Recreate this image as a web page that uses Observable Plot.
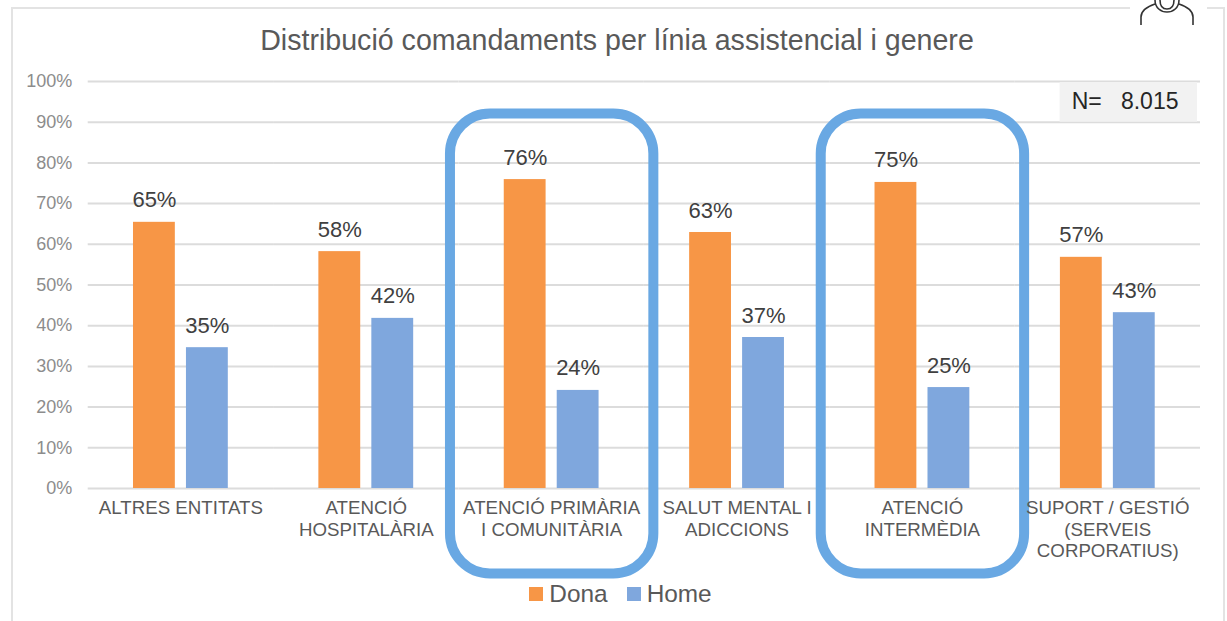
<!DOCTYPE html>
<html lang="ca">
<head>
<meta charset="utf-8">
<script src="https://cdn.jsdelivr.net/npm/d3@7"></script>
<script src="https://cdn.jsdelivr.net/npm/@observablehq/plot@0.6"></script>
<style>
  html, body { margin: 0; padding: 0; background: #fff; width: 1227px; height: 621px; overflow: hidden; font-family: "Liberation Sans", Arial, sans-serif; }
  #page { position: relative; width: 1227px; height: 621px; }
  #frame { position: absolute; left: 11px; top: 7px; width: 1214px; height: 640px; border: 2px solid #e3e3e3; box-sizing: border-box; }
  #gap { position: absolute; left: 1130px; top: 0; width: 77px; height: 12px; background: #fff; }
  #icon { position: absolute; left: 1137px; top: 0; }
  #title { position: relative; height: 62px; line-height: 81px; text-align: center; font-size: 28.6px; color: #595959; padding-left: 7px; box-sizing: border-box; white-space: nowrap; }
  #chart { position: relative; height: 518px; }
  #chart svg { display: block; background: transparent; overflow: visible; }
  #legend { position: relative; height: 41px; display: flex; justify-content: center; align-items: flex-start; padding-left: 14px; box-sizing: border-box; font-size: 24.4px; color: #595959; line-height: 28px; }
  .item { display: flex; align-items: center; margin-right: 19px; }
  .item:last-child { margin-right: 0; }
  .sw { width: 14px; height: 14px; margin-right: 6px; }
</style>
</head>
<body>
<div id="page">
  <div id="frame"></div>
  <div id="gap"></div>
  <svg id="icon" width="60" height="28" fill="none" stroke="#333" stroke-width="1.6">
    <path d="M4 25 V17 C4 10 12 6 18 4 M56 25 V17 C56 10 48 6 42 4"/>
    <path d="M18 0 C18 8 24 12 30 12 C36 12 42 8 42 0"/>
    <path d="M23 0 C23 6 26 9 30 9 C34 9 37 6 37 0"/>
  </svg>
  <div id="title">Distribució comandaments per línia assistencial i genere</div>
  <div id="chart"></div>
  <div id="legend"></div>
</div>
<script>
const categories = ["ALTRES ENTITATS", "ATENCIÓ HOSPITALÀRIA", "ATENCIÓ PRIMÀRIA I COMUNITÀRIA", "SALUT MENTAL I ADICCIONS", "ATENCIÓ INTERMÈDIA", "SUPORT / GESTIÓ (SERVEIS CORPORATIUS)"];
const categoryLabels = ["ALTRES ENTITATS", "ATENCIÓ\nHOSPITALÀRIA", "ATENCIÓ PRIMÀRIA\nI COMUNITÀRIA", "SALUT MENTAL I\nADICCIONS", "ATENCIÓ\nINTERMÈDIA", "SUPORT / GESTIÓ\n(SERVEIS\nCORPORATIUS)"];
const series = ["Dona", "Home"];
const colors = ["#F79646", "#7FA7DD"];
const dona = [65.4, 58.2, 75.9, 62.9, 75.2, 56.8];
const home = [34.6, 41.8, 24.1, 37.1, 24.8, 43.2];
const yTicks = [0, 10, 20, 30, 40, 50, 60, 70, 80, 90, 100];
const highlighted = ["ATENCIÓ PRIMÀRIA I COMUNITÀRIA", "ATENCIÓ INTERMÈDIA"];
const noteText = "N=   8.015";

const rows = categories.flatMap((c, i) => [
  {category: c, series: "Dona", value: dona[i]},
  {category: c, series: "Home", value: home[i]}
]);
const lastCategory = categories[categories.length - 1];

const chart = Plot.plot({
  width: 1227,
  height: 518,
  marginLeft: 87.7,
  marginRight: 27,
  marginTop: 19,
  marginBottom: 92,
  style: {fontFamily: '"Liberation Sans", Arial, sans-serif', background: "transparent"},
  fx: {domain: categories, padding: 0, round: false, label: null},
  x: {domain: series, paddingInner: 0.21, paddingOuter: 0.855, round: false, axis: null},
  y: {domain: [0, 100], label: null},
  color: {domain: series, range: colors},
  marks: [
    Plot.gridY(yTicks, {stroke: "#dcdcdc", strokeOpacity: 1, strokeWidth: 2}),
    Plot.rect([lastCategory], {fx: d => d, y1: 90, y2: 100, fill: "#f2f2f2", insetLeft: 45, insetRight: 3, insetTop: 1}),
    Plot.text([lastCategory], {fx: d => d, y: 95, text: () => noteText, frameAnchor: "right", dx: -22, fontSize: 23, fill: "#262626", textAnchor: "end"}),
    Plot.barY(rows, {fx: "category", x: "series", y: "value", fill: "series"}),
    Plot.text(rows, {fx: "category", x: "series", y: "value", text: d => d3.format(".0f")(d.value) + "%", dy: -22, fontSize: 22, fill: "#404040"}),
    Plot.rect(highlighted, {fx: d => d, y1: -21, y2: 92, fill: "none", stroke: "#69A8E3", strokeWidth: 10, rx: 40, insetLeft: -8.5, insetRight: -9.5}),
    Plot.axisY({ticks: yTicks, anchor: "left", tickSize: 0, tickPadding: 16, tickFormat: d => d + "%", fontSize: 18, color: "#8c8c8c", label: null}),
    Plot.axisFx({anchor: "bottom", tickSize: 0, tickPadding: 10.5, tickFormat: d => categoryLabels[categories.indexOf(d)], fontSize: 18.7, color: "#595959", lineHeight: 1.15, label: null, lineWidth: Infinity, textOverflow: null})
  ]
});
document.getElementById("chart").appendChild(chart);

const legend = document.getElementById("legend");
series.forEach((s, i) => {
  const item = document.createElement("div");
  item.className = "item";
  const sw = document.createElement("span");
  sw.className = "sw";
  sw.style.background = colors[i];
  const label = document.createElement("span");
  label.textContent = s;
  item.append(sw, label);
  legend.appendChild(item);
});
</script>
</body>
</html>
